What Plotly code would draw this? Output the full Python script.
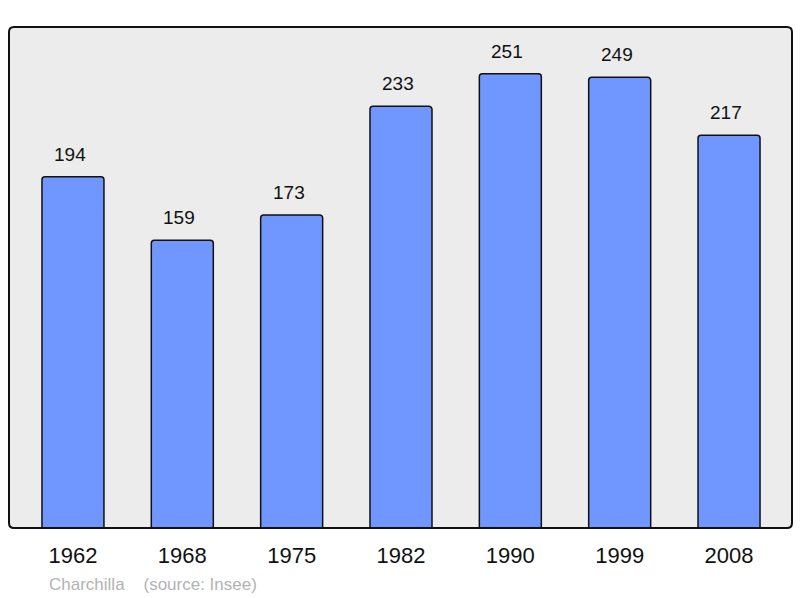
import plotly.graph_objects as go

years = ["1962", "1968", "1975", "1982", "1990", "1999", "2008"]
population = [194, 159, 173, 233, 251, 249, 217]
source_text = "Charchilla    (source: Insee)"

fig = go.Figure()
fig.add_trace(go.Bar(
    x=years, y=population,
    width=0.567,
    marker=dict(color="#7096ff", line=dict(color="#111111", width=1.5), cornerradius=3),
    hoverinfo="skip",
))

for i, v in enumerate(population):
    fig.add_annotation(x=i, y=v, text=str(v), showarrow=False,
                       yanchor="bottom", yshift=10, xshift=-3,
                       font=dict(family="Liberation Sans, Arial", size=19, color="#111111"))

fig.add_annotation(xref="paper", yref="paper", x=(47 - 9) / 783, y=(528 - 584) / 501,
                   xanchor="left", yanchor="middle", showarrow=False, text=source_text,
                   font=dict(family="Liberation Sans, Arial", size=17, color="#b3b3b3"))

rx, ry = 5 / 783, 5 / 501
path = (f"M {rx},0 L {1-rx},0 Q 1,0 1,{ry} L 1,{1-ry} Q 1,1 {1-rx},1 "
        f"L {rx},1 Q 0,1 0,{1-ry} L 0,{ry} Q 0,0 {rx},0 Z")
fig.add_shape(type="path", path=path, xref="paper", yref="paper",
              line=dict(color="#111111", width=2), layer="above")

fig.update_layout(
    width=800, height=598,
    margin=dict(l=9, r=8, t=27, b=70, autoexpand=False),
    paper_bgcolor="white", plot_bgcolor="#ececec",
    showlegend=False,
    xaxis=dict(type="category", range=[-0.585, 6.576], showgrid=False, zeroline=False,
               showline=False, ticks="outside", ticklen=8, tickcolor="rgba(0,0,0,0)",
               tickfont=dict(family="Liberation Sans, Arial", size=22, color="#111111")),
    yaxis=dict(range=[0, 276.8], showgrid=False, zeroline=False, showticklabels=False,
               showline=False),
)

fig.write_html("out.html", config={"displayModeBar": False},
               post_script="document.body.style.margin='0';")
